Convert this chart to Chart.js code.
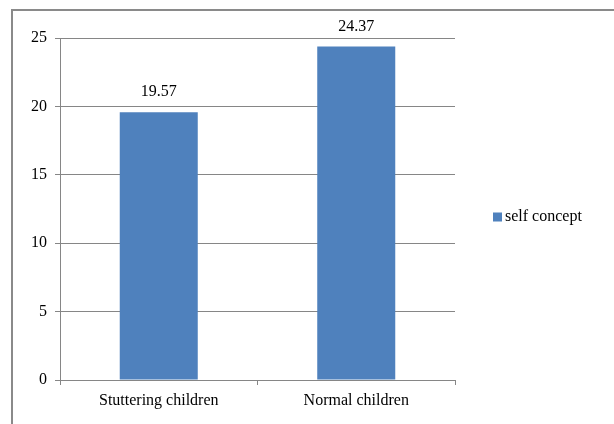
<!DOCTYPE html>
<html>
<head>
<meta charset="utf-8">
<script src="https://cdn.jsdelivr.net/npm/chart.js@4/dist/chart.umd.min.js"></script>
<style>
  html, body { margin: 0; padding: 0; background: #fff; overflow: hidden; }
  #wrap { position: relative; width: 614px; height: 424px; overflow: hidden; }
  #frame { position: absolute; left: 11px; top: 9px; width: 640px; height: 440px;
           border-top: 2px solid #8a8a8a; border-left: 2px solid #8a8a8a; pointer-events: none; }
  canvas { position: absolute; left: 0; top: 0; }
</style>
</head>
<body>
<div id="wrap">
  <canvas id="c" width="614" height="424"></canvas>
  <div id="frame"></div>
</div>
<script>
// Groups and mean self-concept scores
const categories = ['Stuttering children', 'Normal children'];
const seriesName = 'self concept';
const selfConcept = [19.57, 24.37];
const yTicks = [0, 5, 10, 15, 20, 25];

const FONT = { family: '"Liberation Serif", "Times New Roman", serif', size: 16 };
const BAR_BLUE = '#4F81BD';
const GRID = '#868686';

// Value printed above each bar
const valueLabels = {
  id: 'valueLabels',
  afterDatasetsDraw(chart) {
    const ctx = chart.ctx;
    ctx.save();
    ctx.font = `${FONT.size}px ${FONT.family}`;
    ctx.fillStyle = '#000';
    ctx.textAlign = 'center';
    ctx.textBaseline = 'alphabetic';
    chart.data.datasets.forEach((ds, di) => {
      chart.getDatasetMeta(di).data.forEach((bar, i) => {
        ctx.fillText(ds.data[i].toFixed(2), bar.x, bar.y - 16);
      });
    });
    ctx.restore();
  }
};

// Single-entry legend to the right of the plot
const sideLegend = {
  id: 'sideLegend',
  afterDraw(chart) {
    const ctx = chart.ctx;
    const ds = chart.data.datasets[0];
    const x = chart.chartArea.right + 38;
    const cy = chart.height / 2 + 5;
    ctx.save();
    ctx.fillStyle = ds.backgroundColor;
    ctx.fillRect(x, cy - 4.5, 9, 9);
    ctx.font = `${FONT.size}px ${FONT.family}`;
    ctx.fillStyle = '#000';
    ctx.textAlign = 'left';
    ctx.textBaseline = 'middle';
    ctx.fillText(ds.label, x + 12, cy);
    ctx.restore();
  }
};

new Chart(document.getElementById('c'), {
  type: 'bar',
  data: {
    labels: categories,
    datasets: [{
      label: seriesName,
      data: selfConcept,
      backgroundColor: BAR_BLUE,
      borderWidth: 0,
      categoryPercentage: 1,
      barPercentage: 0.395
    }]
  },
  options: {
    responsive: false,
    animation: false,
    layout: { padding: { top: 38, right: 159, bottom: 0, left: 0 } },
    plugins: { legend: { display: false }, tooltip: { enabled: false } },
    scales: {
      x: {
        grid: { offset: true, drawOnChartArea: false, color: GRID, tickLength: 5 },
        border: { display: true, color: GRID, width: 1 },
        ticks: { font: FONT, color: '#000', padding: 6 },
        afterFit(scale) { scale.height = 44; }
      },
      y: {
        min: 0, max: 25,
        afterBuildTicks(scale) { scale.ticks = yTicks.map(v => ({ value: v })); },
        grid: { color: GRID, tickLength: 5 },
        border: { display: true, color: GRID, width: 1 },
        ticks: { font: FONT, color: '#000', padding: 8 },
        afterFit(scale) { scale.width = 60; }
      }
    }
  },
  plugins: [valueLabels, sideLegend]
});
</script>
</body>
</html>
